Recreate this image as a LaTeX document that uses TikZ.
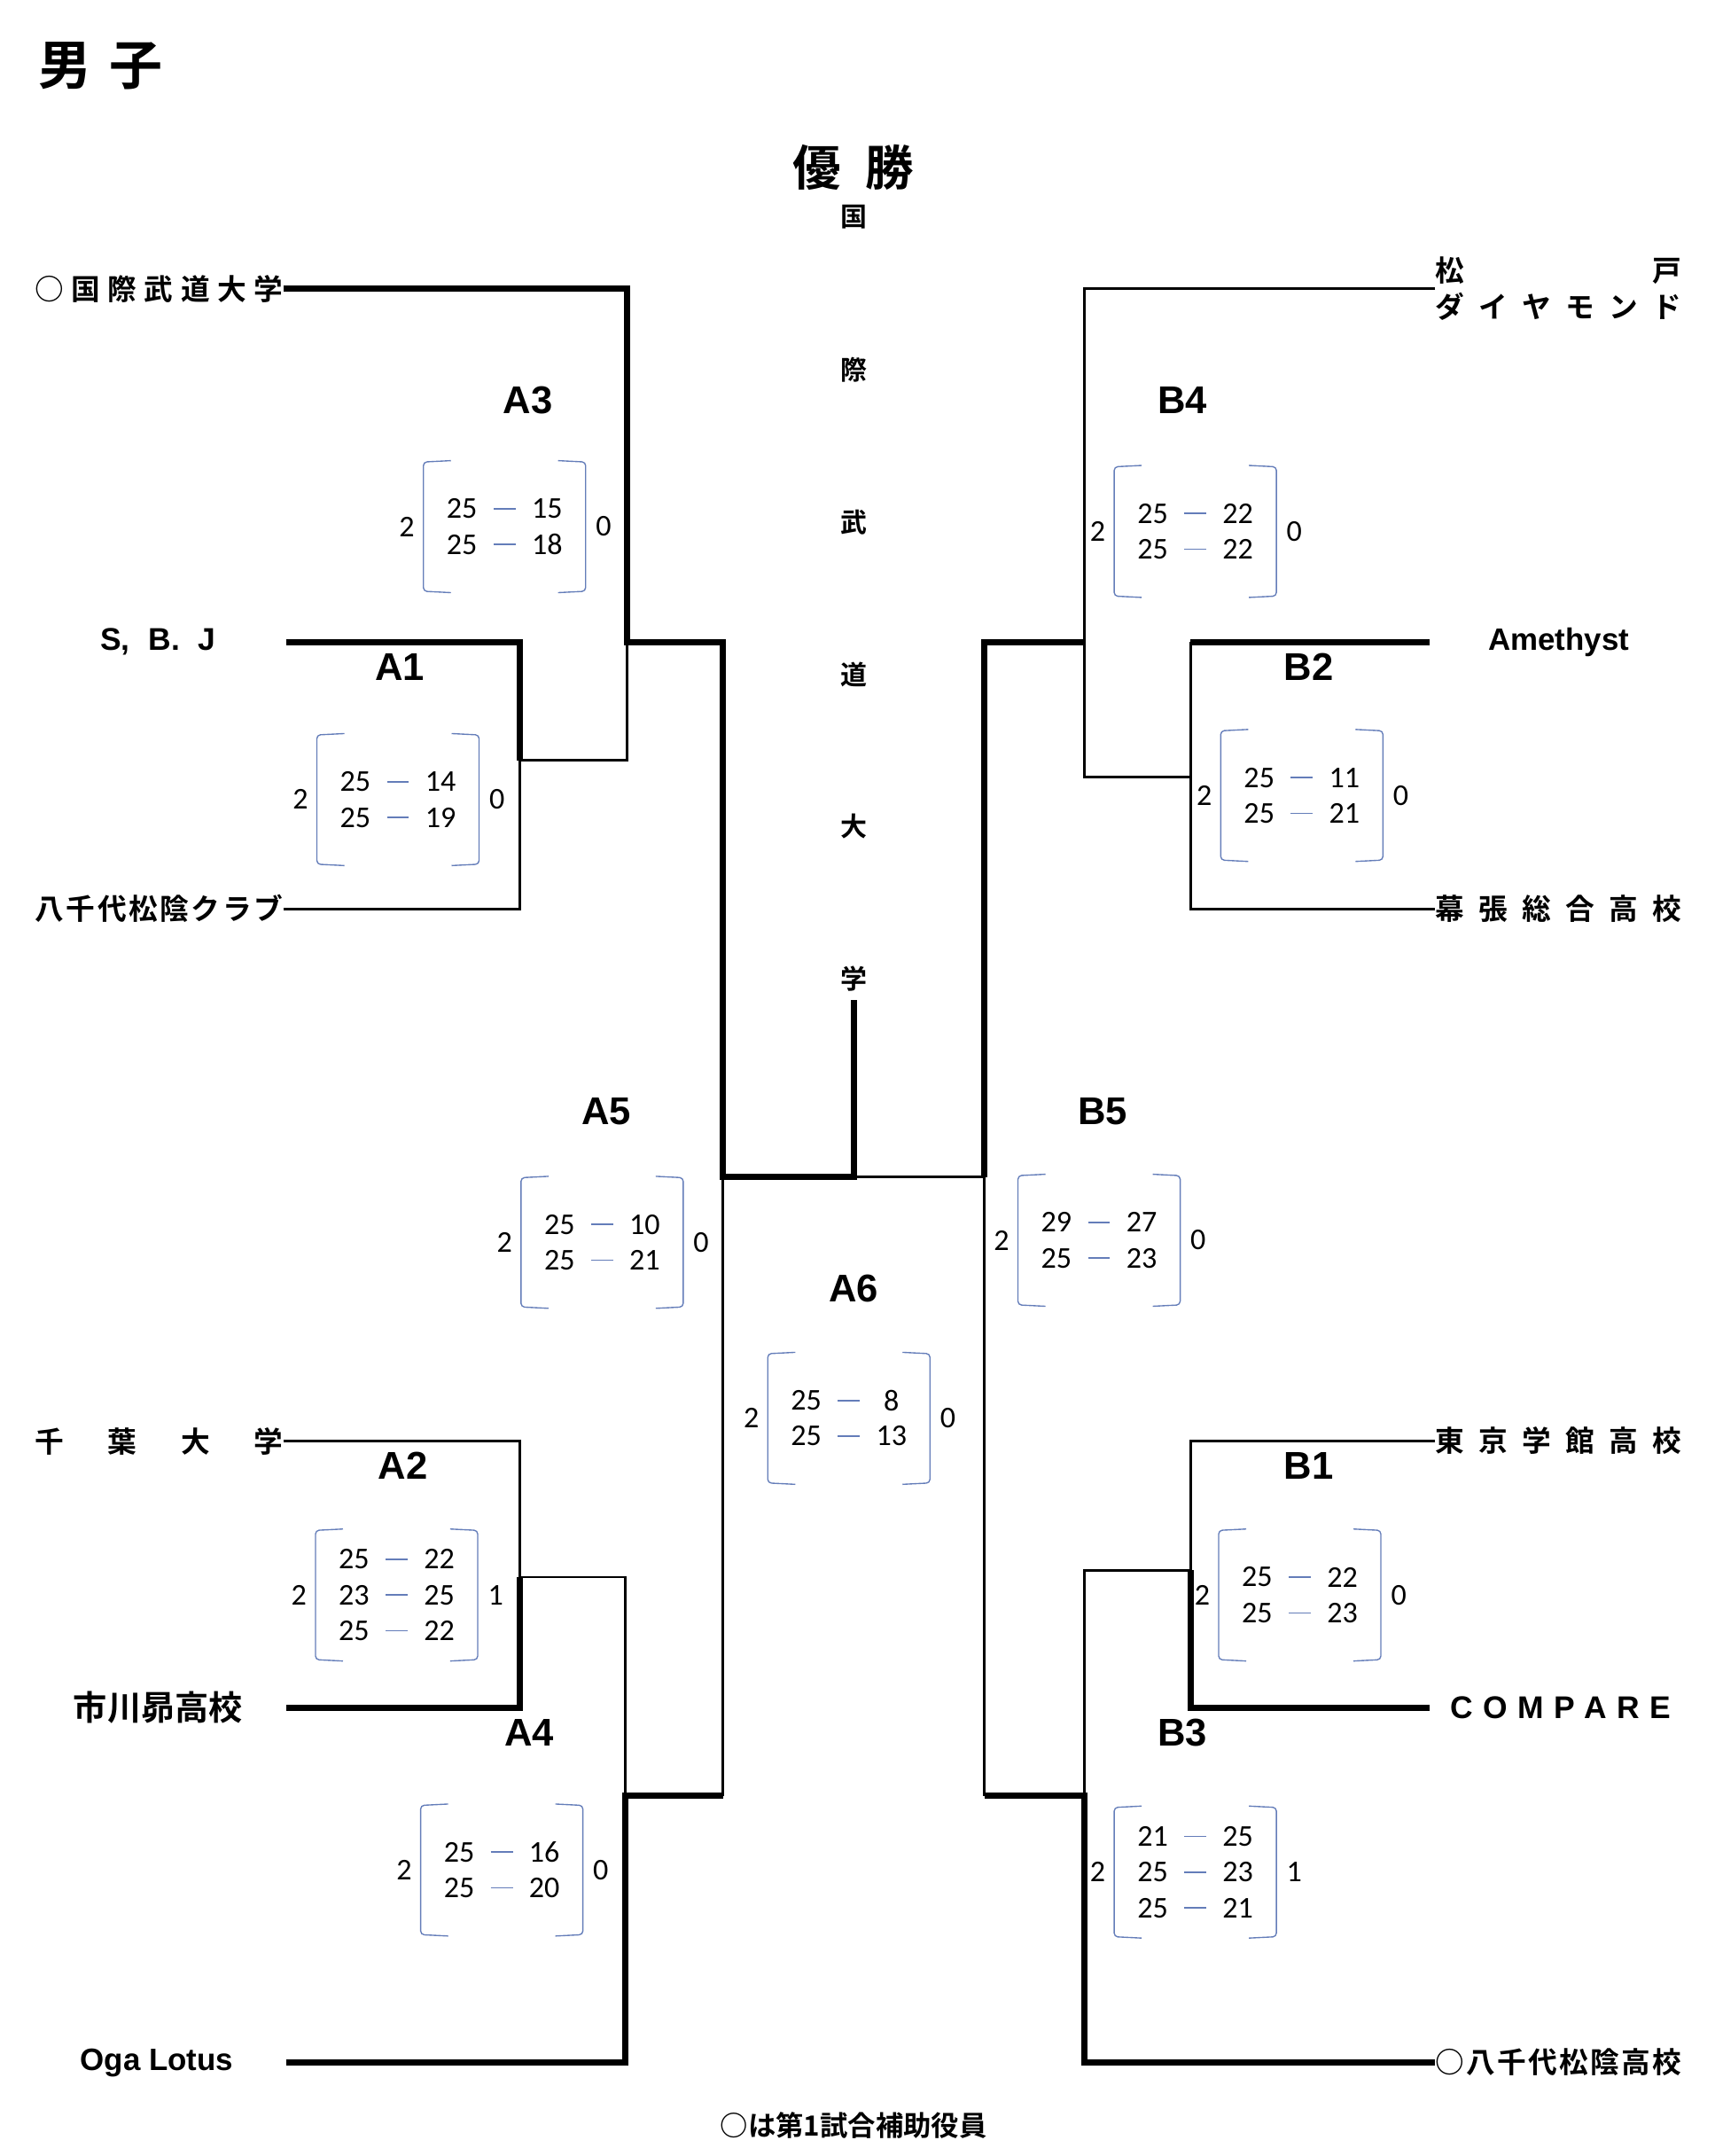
\documentclass[tikz,border=0pt]{standalone}
\usepackage{fontspec}
\usepackage{tikz}
\newfontfamily\jpfont{Noto Sans CJK JP}[BoldFont={Noto Sans CJK JP Bold}]
\newfontfamily\lsans{Liberation Sans}
\newfontfamily\calib{Carlito}
\definecolor{bracketblue}{RGB}{100,125,185}

% spread the letters of #2 over #1 units (1 unit = 0.2mm)
\newcommand\spreadname[2]{\makebox[\dimexpr #1mm/5\relax][s]{\spreadloop#2\relax}}
\def\spreadloop#1#2{#1\ifx\relax#2\else\hfill\expandafter\spreadloop\fi#2}

% score box: name, centre, rows, left sets, right sets, games
\newcommand\scorebox[6]{%
  \begin{scope}[shift={#2}]
    \draw[bracket] (-39,-48) -- (-59,-47) -- (-59,47) -- (-39,48);
    \draw[bracket] (39,-48) -- (59,-47) -- (59,47) -- (39,48);
    \node[pts] (#1-w) at (-71,0) {#4};
    \node[pts] (#1-l) at (72,0) {#5};
    \foreach \a/\b [count=\i] in {#6} {
      \node[pts] (#1-\i-a) at (-31,{(\i-(#3+1)/2)*26}) {\a};
      \node[pts] (#1-\i-b) at (31,{(\i-(#3+1)/2)*26}) {\b};
      \draw[bracket, line width=0.6pt] (-8,{(\i-(#3+1)/2)*26}) -- (8,{(\i-(#3+1)/2)*26});
    }
  \end{scope}}

\begin{document}
\begin{tikzpicture}[
  x=0.2mm, y=-0.2mm,
  win/.style={line width=2.6pt},
  lose/.style={line width=1pt},
  bracket/.style={draw=bracketblue, line width=0.5pt, rounded corners=1.5pt},
  team/.style={inner sep=0pt, font=\jpfont\bfseries\fontsize{12}{14.8}\selectfont},
  latin/.style={inner sep=0pt, font=\lsans\bfseries\fontsize{12.8}{16}\selectfont},
  latinb/.style={inner sep=0pt, font=\lsans\bfseries\fontsize{13}{16}\selectfont},
  match/.style={inner sep=0pt, font=\lsans\bfseries\fontsize{16}{18}\selectfont},
  pts/.style={inner sep=0pt, font=\calib\fontsize{12.5}{14}\selectfont},
  champ/.style={inner sep=0pt, font=\jpfont\bfseries\fontsize{11}{13}\selectfont}
]
\useasboundingbox (0,0) rectangle (1247,1568);

% titles
\node[team, font=\jpfont\bfseries\fontsize{22}{24}\selectfont] (boys) at (73,48) {\spreadname{90}{男子}};
\node[team, font=\jpfont\bfseries\fontsize{20}{22}\selectfont] (yusho) at (621,122) {\spreadname{88}{優勝}};
\foreach \c [count=\i] in {国,際,武,道,大,学}
  \node[champ] (champ-\i) at (621,{158+(\i-1)*110.8}) {\c};
\node[team, font=\jpfont\bfseries\fontsize{11.5}{13}\selectfont] (note) at (621,1546) {○は第1試合補助役員};

% teams, left
\node[team, anchor=east] (kokusai) at (206,210) {\spreadname{180}{○国際武道大学}};
\node[latinb] (sbj) at (115,467) {\makebox[\dimexpr 84mm/5\relax][s]{S,\hfill B.\hfill J}};
\node[team, anchor=east] (yachiyoc) at (206,661) {\spreadname{180}{八千代松陰クラブ}};
\node[team, anchor=east] (chiba) at (206,1048) {\spreadname{180}{千葉大学}};
\node[team, font=\jpfont\bfseries\fontsize{14}{16}\selectfont] (ichikawa) at (115,1242) {市川昴高校};
\node[latin] (oga) at (114,1500) {Oga Lotus};

% teams, right
\node[team, anchor=west, align=left] (matsudo) at (1044,210) {\spreadname{179}{松戸}\\\spreadname{179}{ダイヤモンド}};
\node[latin] (amethyst) at (1134,467) {Amethyst};
\node[team, anchor=west] (makuhari) at (1044,661) {\spreadname{179}{幕張総合高校}};
\node[team, anchor=west] (tokyo) at (1044,1048) {\spreadname{179}{東京学館高校}};
\node[latinb, anchor=west] (compare) at (1055,1242) {\spreadname{160}{COMPARE}};
\node[team, anchor=west] (yachiyoh) at (1044,1500) {\spreadname{179}{○八千代松陰高校}};

% junctions
\coordinate (sbj-end) at (208,467);
\coordinate (ichikawa-end) at (208,1242);
\coordinate (oga-end) at (208,1500);
\coordinate (amethyst-end) at (1040,467);
\coordinate (compare-end) at (1040,1242);
\coordinate (a1) at (378,553);
\coordinate (a3) at (456,467);
\coordinate (a2) at (378,1147);
\coordinate (a4) at (455,1306);
\coordinate (a4b) at (526,1306);
\coordinate (a5) at (526,856);
\coordinate (top) at (621,856);
\coordinate (champ) at (621,727);
\coordinate (b5) at (716,856);
\coordinate (b5b) at (716,1306);
\coordinate (b4) at (789,467);
\coordinate (b4b) at (789,565);
\coordinate (b2top) at (866,467);
\coordinate (b2) at (866,565);
\coordinate (b1) at (866,1142);
\coordinate (b3) at (789,1306);

% left half
\draw[win] (kokusai.east) -| (a3) -| (a5) -- (top) -- (champ);
\draw[win] (sbj-end) -| (a1);
\draw[lose] (yachiyoc.east) -| (a1);
\draw[lose] (a1) -| (a3);
\draw[lose] (chiba.east) -| (a2);
\draw[win] (ichikawa-end) -| (a2);
\draw[lose] (a2) -| (a4);
\draw[win] (oga-end) -| (a4) -- (a4b);
\draw[lose] (a4b) -- (a5);

% right half
\draw[lose] (top) -- (b5);
\draw[win] (b4) -| (b5);
\draw[lose] (b5) -- (b5b);
\draw[lose] (matsudo.west) -| (b4b) -- (b2);
\draw[win] (amethyst-end) -- (b2top);
\draw[lose] (b2top) -- (b2) |- (makuhari.west);
\draw[lose] (tokyo.west) -| (b1);
\draw[win] (compare-end) -| (b1);
\draw[lose] (b1) -| (b3);
\draw[win] (yachiyoh.west) -| (b3) -- (b5b);

% match labels
\node[match] (A1) at (291,485) {A1};
\node[match] (A2) at (293,1066) {A2};
\node[match] (A3) at (384,291) {A3};
\node[match] (A4) at (385,1260) {A4};
\node[match] (A5) at (441,808) {A5};
\node[match] (A6) at (621,937) {A6};
\node[match] (B1) at (952,1066) {B1};
\node[match] (B2) at (952,485) {B2};
\node[match] (B3) at (860,1260) {B3};
\node[match] (B4) at (860,291) {B4};
\node[match] (B5) at (802,808) {B5};

% scores
\scorebox{s-a3}{(367,383)}{2}{2}{0}{25/15,25/18}
\scorebox{s-a1}{(289.5,581.5)}{2}{2}{0}{25/14,25/19}
\scorebox{s-a5}{(438,903.5)}{2}{2}{0}{25/10,25/21}
\scorebox{s-a6}{(617.5,1031.5)}{2}{2}{0}{25/8,25/13}
\scorebox{s-a2}{(288.5,1160)}{3}{2}{1}{25/22,23/25,25/22}
\scorebox{s-a4}{(365,1360)}{2}{2}{0}{25/16,25/20}
\scorebox{s-b4}{(869.5,386.5)}{2}{2}{0}{25/22,25/22}
\scorebox{s-b2}{(947,578.5)}{2}{2}{0}{25/11,25/21}
\scorebox{s-b5}{(799.5,902)}{2}{2}{0}{29/27,25/23}
\scorebox{s-b1}{(945.5,1160)}{2}{2}{0}{25/22,25/23}
\scorebox{s-b3}{(869.5,1361.5)}{3}{2}{1}{21/25,25/23,25/21}
\end{tikzpicture}
\end{document}
